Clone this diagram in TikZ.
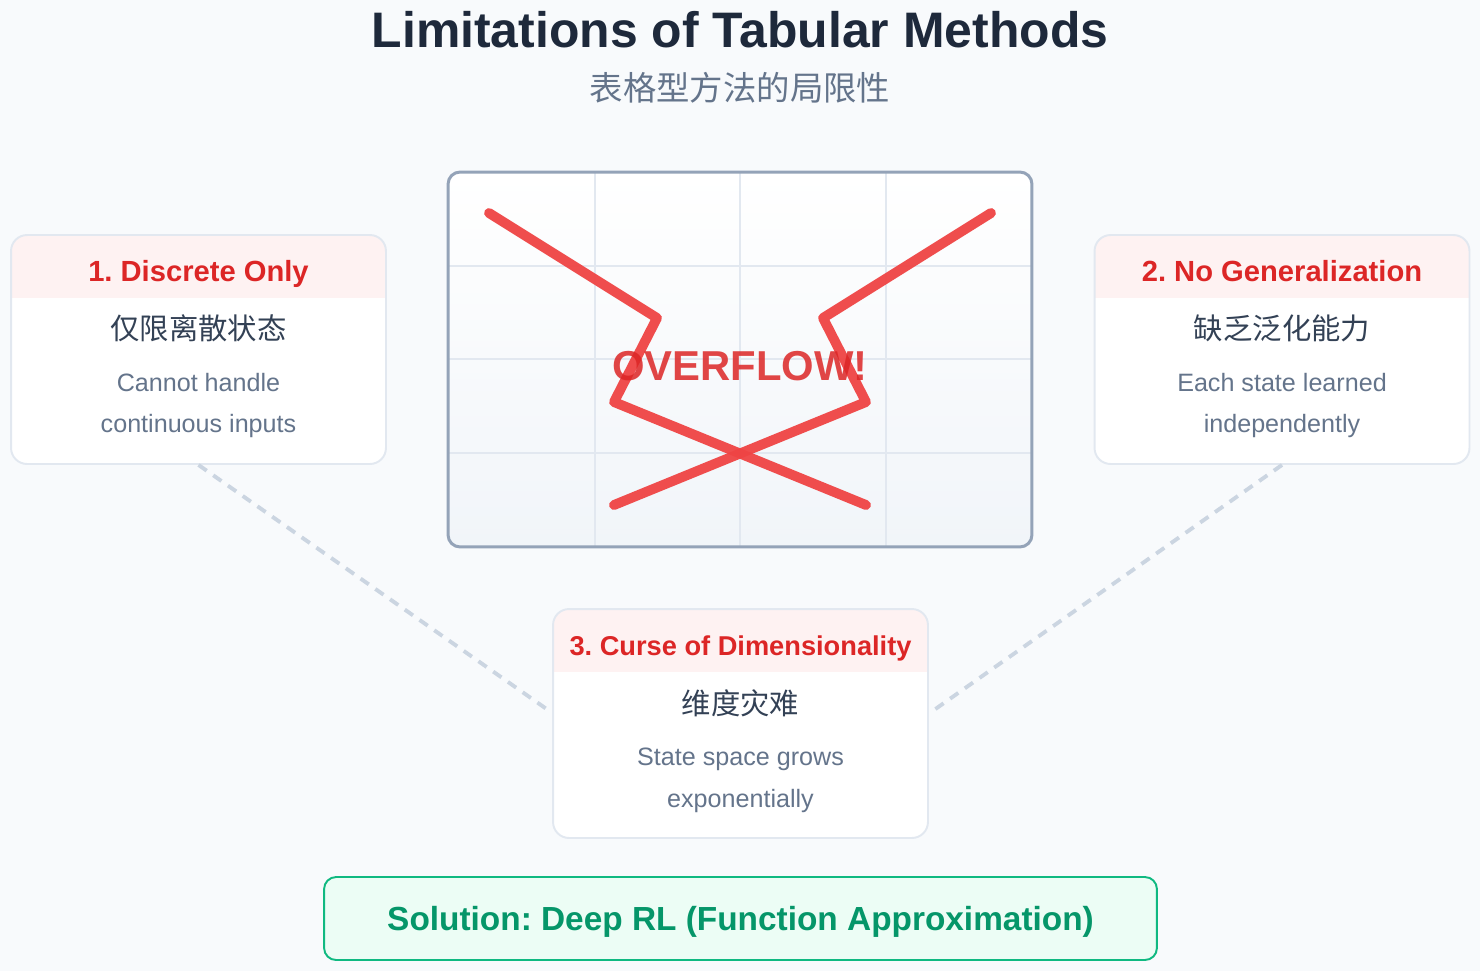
\documentclass[tikz,border=0pt]{standalone}
\usepackage{fontspec}
\setmainfont{Liberation Sans}
\newfontfamily\cjk{Noto Sans CJK SC}
\usetikzlibrary{calc}
\frenchspacing

\definecolor{bgpage}{HTML}{F8FAFC}
\definecolor{ink}{HTML}{1E293B}
\definecolor{slate}{HTML}{64748B}
\definecolor{darkslate}{HTML}{334155}
\definecolor{cardline}{HTML}{E2E8F0}
\definecolor{headfill}{HTML}{FEF2F2}
\definecolor{headred}{HTML}{DC2626}
\definecolor{xred}{HTML}{EF4444}
\definecolor{gridframe}{HTML}{94A3B8}
\definecolor{gridbot}{HTML}{F1F5F9}
\definecolor{linkgray}{HTML}{CBD5E1}
\definecolor{solfill}{HTML}{ECFDF5}
\definecolor{solline}{HTML}{10B981}
\definecolor{soltext}{HTML}{059669}

\begin{document}
\begin{tikzpicture}[x=0.02cm, y=-0.02cm,
  card/.style={draw=cardline, line width=1.1pt, fill=white, rounded corners=0.32cm,
    minimum width=7.5cm, minimum height=4.58cm, inner sep=0pt,
    path picture={\fill[headfill, sharp corners] (path picture bounding box.north west)
      rectangle ([yshift=-1.25cm]path picture bounding box.north east);}},
  cardhead/.style={text=headred, text height=11.9pt, text depth=0pt, font=\bfseries\fontsize{16.6}{20}\selectfont},
  cardcjk/.style={text=darkslate, font=\cjk\fontsize{16.7}{20}\selectfont},
  cardnote/.style={text=slate, font=\fontsize{14.3}{17}\selectfont},
  gridline/.style={draw=cardline, line width=0.9pt},
  link/.style={draw=linkgray, line width=2.2pt, dash pattern=on 0.2cm off 0.16cm},
  cross/.style={draw=xred, line width=5.6pt, line cap=round, line join=round, opacity=0.95}]
  % 背景与边界
  \fill[bgpage] (0,0) rectangle (1480,971);
  \useasboundingbox (0,0) rectangle (1480,971);
  % 标题
  \node[text=ink, font=\bfseries\fontsize{28.4}{34}\selectfont] (title) at (740,30) {Limitations of Tabular Methods};
  \node[text=slate, font=\cjk\fontsize{19}{23}\selectfont] (subtitle) at (740,88) {表格型方法的局限性};
  % 虚线连接
  \coordinate (j3l) at (548,710);
  \coordinate (j3r) at (934,710);
  % 表格（溢出）
  \shade[top color=white, bottom color=gridbot, rounded corners=0.24cm] (448,172) rectangle (1032,547);
  \foreach \gx in {595,740,886}
    \draw[gridline] (\gx,173) -- (\gx,546);
  \foreach \gy in {266,359,453}
    \draw[gridline] (449,\gy) -- (1031,\gy);
  \node[draw=gridframe, line width=1.7pt, rounded corners=0.24cm, minimum width=11.68cm, minimum height=7.5cm] (table) at (740,359.5) {};
  \draw[cross] (489,213) -- (657,318) -- (614,402) -- (866,505);
  \draw[cross] (991,213) -- (823,318) -- (866,402) -- (614,505);
  \node[text=headred, opacity=0.85, font=\bfseries\fontsize{23.8}{28}\selectfont] (overflow) at (740,366) {OVERFLOW!};
  % 卡片 1
  \node[card] (c1) at (198.5,349.5) {};
  \node[cardhead] (h1) at (198.5,271) {1. Discrete Only};
  \node[cardcjk] (z1) at (198.5,328) {仅限离散状态};
  \node[cardnote] (n1a) at (198.5,383) {Cannot handle};
  \node[cardnote] (n1b) at (198.5,426) {continuous inputs};
  % 卡片 2
  \node[card] (c2) at (1282,349.5) {};
  \node[cardhead] (h2) at (1282,271) {2. No Generalization};
  \node[cardcjk] (z2) at (1282,328) {缺乏泛化能力};
  \node[cardnote] (n2a) at (1282,383) {Each state learned};
  \node[cardnote] (n2b) at (1282,426) {independently};
  % 卡片 3
  \draw[link] (c1.south) -- (j3l);
  \draw[link] (c2.south) -- (j3r);
  \node[card] (c3) at (740.5,723.5) {};
  \node[cardhead, text height=11.1pt, font=\bfseries\fontsize{15.5}{19}\selectfont] (h3) at (740.5,646) {3. Curse of Dimensionality};
  \node[cardcjk] (z3) at (740.5,703) {维度灾难};
  \node[cardnote] (n3a) at (740.5,759) {State space grows};
  \node[cardnote] (n3b) at (740.5,801) {exponentially};
  % 解决方案
  \node[draw=solline, fill=solfill, line width=1.1pt, rounded corners=0.24cm, minimum width=16.66cm, minimum height=1.66cm,
    text height=13.6pt, text depth=0pt, text=soltext, font=\bfseries\fontsize{19}{23}\selectfont] (sol) at (740.5,918.5) {Solution: Deep RL (Function Approximation)};
\end{tikzpicture}
\end{document}
